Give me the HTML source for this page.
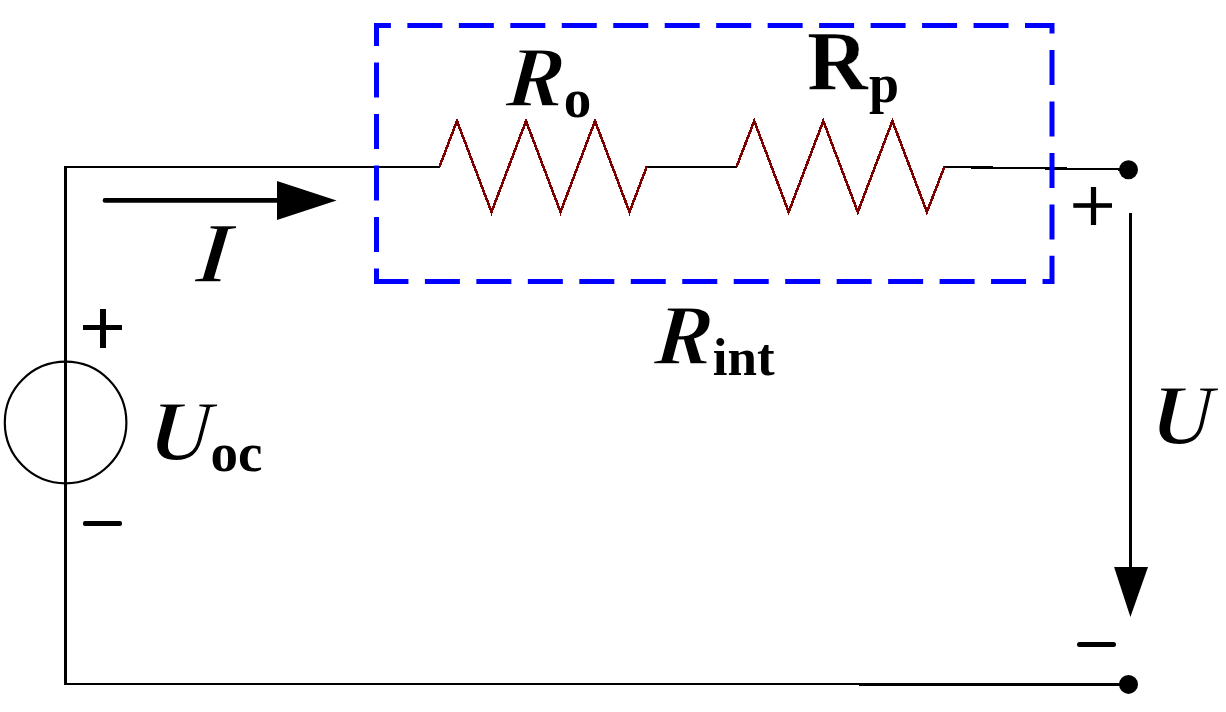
<!DOCTYPE html>
<html>
<head>
<meta charset="utf-8">
<style>
html,body{margin:0;padding:0;background:#fff;}
body{width:1226px;height:712px;overflow:hidden;}
svg{display:block;}
text{font-family:"Liberation Serif", serif;font-weight:bold;fill:#000;stroke:#fff;stroke-width:0;paint-order:fill;}
.it{stroke-width:1.4px;}
.up{stroke-width:0.5px;}
.it{font-style:italic;}
</style>
</head>
<body>
<svg width="1226" height="712" viewBox="0 0 1226 712">
<rect x="0" y="0" width="1226" height="712" fill="#fff"/>
<!-- outer wires -->
<g fill="#000">
  <rect x="64" y="166" width="3" height="519"/>
  <rect x="64" y="166" width="376" height="2"/>
  <rect x="64" y="683" width="795" height="2"/>
  <rect x="859" y="683" width="270" height="3"/>
  <rect x="646" y="166" width="91" height="2"/>
</g>
<line x1="944.4" y1="167" x2="1128.5" y2="169.5" stroke="#000" stroke-width="2.3" shape-rendering="crispEdges"/>
<!-- resistors -->
<polyline fill="none" stroke="#800000" stroke-width="2.6" shape-rendering="crispEdges" stroke-linejoin="miter"
  points="439.5,166.6 457,121 491.5,212 526,121 560.5,212 595,121 629.5,212 646.8,166.6"/>
<polyline fill="none" stroke="#800000" stroke-width="2.6" shape-rendering="crispEdges" stroke-linejoin="miter"
  points="736.6,166.6 754.2,121 788.7,212 823.3,121 857.8,212 892.4,121 926.9,212 944.4,166.8"/>
<!-- dashed box -->
<path d="M376.5,281.4 H1052 V25.5 H376.5 Z" fill="none" stroke="#0000ff" stroke-width="5"
  stroke-dasharray="35 16.47" stroke-dashoffset="3.07" stroke-linecap="butt" stroke-linejoin="miter"/>
<!-- terminals -->
<circle cx="1128.5" cy="169.8" r="9.5" fill="#000"/>
<circle cx="1128.5" cy="684.4" r="9.5" fill="#000"/>
<!-- U arrow -->
<rect x="1129" y="213" width="3" height="356"/>
<polygon points="1114.1,567 1148,567 1130.4,617" fill="#000"/>
<!-- I arrow -->
<line x1="105" y1="200.4" x2="280" y2="200.4" stroke="#000" stroke-width="4.7" stroke-linecap="round"/>
<polygon points="277,181 277,220 336.5,200.4" fill="#000"/>
<!-- source -->
<circle cx="65.6" cy="422.5" r="60.8" fill="none" stroke="#000" stroke-width="2.2"/>
<!-- plus/minus -->
<g fill="#000">
  <rect x="83" y="325" width="39" height="5"/>
  <rect x="100" y="309" width="6" height="39"/>
  <rect x="83" y="521" width="39" height="5" rx="2"/>
  <rect x="1073.3" y="203.2" width="38.7" height="4.6"/>
  <rect x="1090.9" y="187" width="5.2" height="38"/>
  <rect x="1077" y="642" width="39" height="5" rx="2.5"/>
</g>
<!-- labels -->
<text class="it" transform="translate(194.8,282.4) skewX(-6.6)" font-size="86">I</text>
<text class="it" transform="translate(504.9,105.5) skewX(-5)" font-size="86">R</text>
<text x="563.8" y="116.9" font-size="55">o</text>
<text class="up" x="807.3" y="90.2" font-size="84">R</text>
<text x="869.1" y="102.3" font-size="54">p</text>
<text class="it" transform="translate(653.2,364.4) skewX(-5)" font-size="86">R</text>
<text x="712.8" y="374.8" font-size="53">int</text>
<text class="it" transform="translate(147.5,459.9) skewX(-5)" font-size="86">U</text>
<text x="210.5" y="470.8" font-size="55">oc</text>
<text class="it" transform="translate(1150.3,444.4) skewX(-3)" font-size="86">U</text>
</svg>
</body>
</html>
